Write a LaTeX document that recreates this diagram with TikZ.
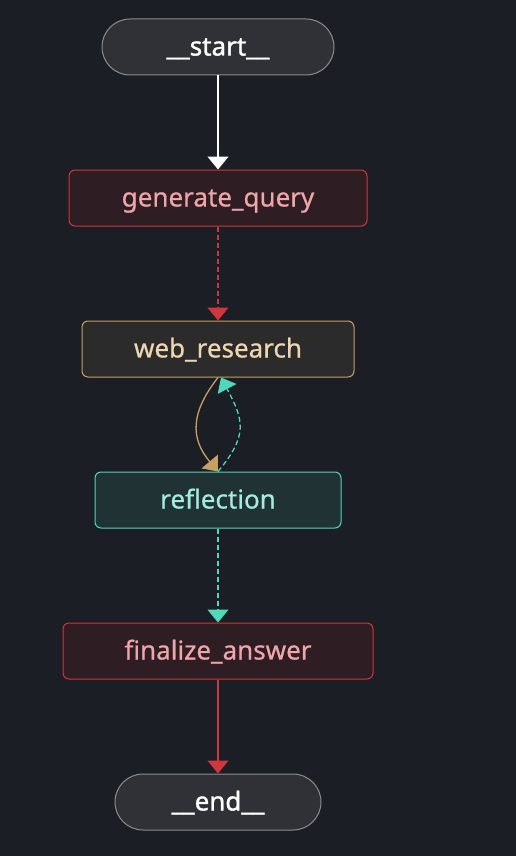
\documentclass[tikz,border=0pt]{standalone}
\usepackage{fontspec}
\setmainfont{Noto Sans}
\newfontfamily\nodefont{Noto Sans}[FakeBold=0.6]
\newfontfamily\termfont{Noto Sans}[FakeBold=1.3]
\usetikzlibrary{arrows.meta,positioning}
\definecolor{GraphBg}{HTML}{1B1E24}
\definecolor{TermFill}{HTML}{2F3137}
\definecolor{TermLine}{HTML}{8C8C8C}
\definecolor{RedFill}{HTML}{2E1E24}
\definecolor{RedLine}{HTML}{D0363D}
\definecolor{RedText}{HTML}{F0A6A9}
\definecolor{TanFill}{HTML}{2C2B2B}
\definecolor{TanLine}{HTML}{C9A062}
\definecolor{TanText}{HTML}{EED6B1}
\definecolor{TealFill}{HTML}{213234}
\definecolor{TealLine}{HTML}{4FD8BA}
\definecolor{TealText}{HTML}{A2EDDD}
\begin{document}
\begin{tikzpicture}[
    x=1pt,y=1pt,
    node distance=94pt,
    every node/.style={font=\nodefont\fontsize{26}{28}\selectfont,text height=23pt,text depth=6pt},
    terminal/.style={rounded corners=28pt,draw=TermLine,fill=TermFill,text=white,line width=1pt,
                minimum height=56pt,font=\termfont\fontsize{26}{28}\selectfont},
    box/.style={rounded corners=6pt,line width=1pt,minimum height=56pt},
    redbox/.style={box,draw=RedLine,fill=RedFill,text=RedText},
    tanbox/.style={box,draw=TanLine,fill=TanFill,text=TanText},
    tealbox/.style={box,draw=TealLine,fill=TealFill,text=TealText},
    arrow/.style={-{Triangle[length=13pt,width=21pt]},line width=1.3pt},
    dashedarrow/.style={arrow,dash pattern=on 5pt off 3pt}
  ]
    \fill[GraphBg] (0,0) rectangle (516,-856);
    \useasboundingbox (0,0) rectangle (516,-856);
    \node[terminal,minimum width=232pt] (start) at (218,-47) {\_\_start\_\_};
    \node[redbox,minimum width=298pt,below=of start] (genquery) {generate\_query};
    \node[tanbox,minimum width=272pt,below=of genquery] (webresearch) {web\_research};
    \node[tealbox,minimum width=246pt,below=of webresearch] (reflection) {reflection};
    \node[redbox,minimum width=310pt,below=of reflection] (finalize) {finalize\_answer};
    \node[terminal,minimum width=206pt,below=of finalize] (end) {\_\_end\_\_};
    \draw[arrow,white] (start) -- (genquery);
    \draw[dashedarrow,RedLine] (genquery) -- (webresearch);
    \draw[arrow,TanLine] (webresearch.south) to[out=232,in=130,looseness=1.2] (reflection.north);
    \draw[dashedarrow,TealLine] (reflection.north) to[out=50,in=-62,looseness=1.3] ([xshift=3pt]webresearch.south);
    \draw[dashedarrow,TealLine] (reflection) -- (finalize);
    \draw[arrow,RedLine] (finalize) -- (end);
  \end{tikzpicture}
\end{document}
